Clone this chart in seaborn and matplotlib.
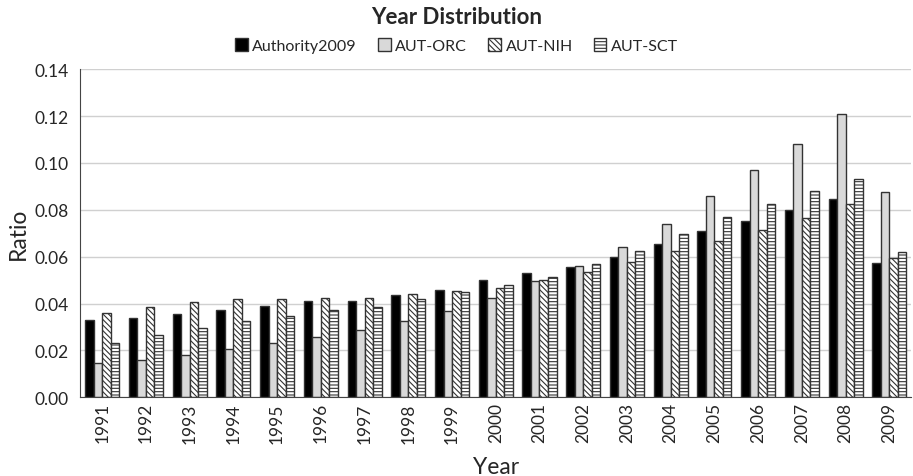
import pandas as pd
import seaborn as sns
import matplotlib.pyplot as plt
import numpy as np

years = [str(y) for y in range(1991, 2010)]
authority = [0.0329, 0.0340, 0.0354, 0.0371, 0.0388, 0.0410, 0.0410, 0.0435, 0.0457, 0.0500,
             0.0530, 0.0555, 0.0597, 0.0653, 0.0708, 0.0751, 0.0798, 0.0845, 0.0572]
aut_orc = [0.0145, 0.0160, 0.0180, 0.0205, 0.0230, 0.0256, 0.0286, 0.0324, 0.0367, 0.0423,
           0.0495, 0.0560, 0.0640, 0.0738, 0.0858, 0.0969, 0.1080, 0.1208, 0.0875]
aut_nih = [0.0358, 0.0384, 0.0405, 0.0418, 0.0420, 0.0423, 0.0423, 0.0440, 0.0452, 0.0465,
           0.0500, 0.0533, 0.0576, 0.0623, 0.0666, 0.0713, 0.0764, 0.0824, 0.0593]
aut_sct = [0.0230, 0.0265, 0.0295, 0.0324, 0.0346, 0.0371, 0.0384, 0.0418, 0.0448, 0.0478,
           0.0512, 0.0568, 0.0623, 0.0696, 0.0768, 0.0824, 0.0879, 0.0930, 0.0619]
series = ['Authority2009', 'AUT-ORC', 'AUT-NIH', 'AUT-SCT']

df = pd.DataFrame({
    'Year': years * 4,
    'Ratio': authority + aut_orc + aut_nih + aut_sct,
    'Method': sum([[s] * len(years) for s in series], []),
})

sns.set_style('white')
plt.rcParams['font.family'] = ['Lato', 'DejaVu Sans']
plt.rcParams['hatch.linewidth'] = 0.8

fig, ax = plt.subplots(figsize=(9.13, 4.77), dpi=100)
fig.subplots_adjust(left=0.088, right=0.998, top=0.853, bottom=0.165)

colors = ['black', '#d9d9d9', 'white', 'white']
hatches = ['', '', '\\\\\\\\\\\\', '-----']
sns.barplot(data=df, x='Year', y='Ratio', hue='Method', palette=colors,
            width=0.78, gap=0, edgecolor='#333333', linewidth=1, ax=ax, saturation=1)

for cont, h in zip(ax.containers, hatches):
    for bar in cont:
        bar.set_hatch(h)

ax.set_ylim(0, 0.14)
ax.set_yticks(np.arange(0, 0.141, 0.02))
ax.set_yticklabels([f'{v:.2f}' for v in np.arange(0, 0.141, 0.02)], fontsize=12.5)
ax.yaxis.grid(True, color='#d0d0d0', linewidth=1)
ax.set_axisbelow(True)
ax.set_xlim(-0.5, len(years) - 0.5)
ax.tick_params(axis='x', which='major', length=0, labelsize=12.5, labelrotation=90)
ax.set_xticks(np.arange(-0.5, len(years), 1), minor=True)
ax.tick_params(axis='x', which='minor', length=5, direction='out', color='#444444')
ax.tick_params(axis='y', length=5, direction='out', color='#444444')
for s in ['top', 'right']:
    ax.spines[s].set_visible(False)
for s in ['left', 'bottom']:
    ax.spines[s].set_color('#444444')

ax.set_xlabel('Year', fontsize=16.5, labelpad=10)
ax.set_ylabel('Ratio', fontsize=16.5)
fig.suptitle('Year Distribution', x=0.5, y=0.985, fontsize=16, fontweight='bold')

handles, labels = ax.get_legend_handles_labels()
for hd, h in zip(handles, hatches):
    hd.set_hatch(h)
ax.get_legend().remove()
fig.legend(handles, labels, loc='center', bbox_to_anchor=(0.5, 0.902), ncol=4,
           frameon=False, fontsize=11.5, handlelength=0.8, handleheight=0.8,
           handletextpad=0.3, columnspacing=1.3)

plt.savefig('out.png', dpi=100)
